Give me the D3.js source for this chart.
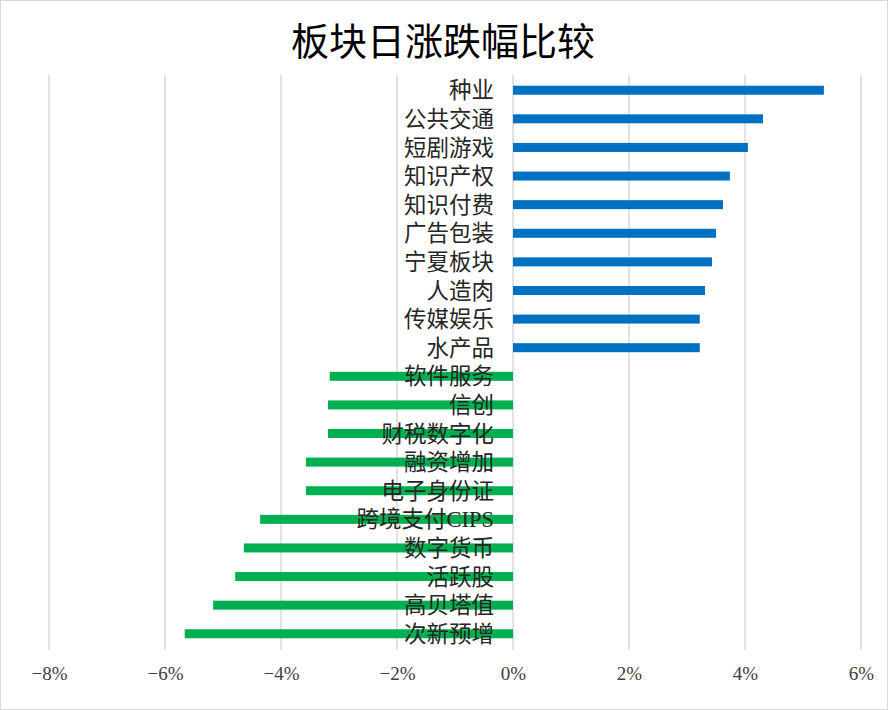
<!DOCTYPE html>
<html><head><meta charset="utf-8">
<script src="https://cdn.jsdelivr.net/npm/d3@7"></script>
<style>
html,body{margin:0;padding:0;background:#fff;}
svg{display:block;font-family:"Liberation Serif","Noto Sans CJK SC",serif;}
</style></head>
<body>
<svg id="chart" width="888" height="710"></svg>
<script>
const title = "板块日涨跌幅比较";
const categories = ["种业","公共交通","短剧游戏","知识产权","知识付费","广告包装","宁夏板块","人造肉","传媒娱乐","水产品",
  "软件服务","信创","财税数字化","融资增加","电子身份证","跨境支付CIPS","数字货币","活跃股","高贝塔值","次新预增"];
const values = [5.36,4.31,4.05,3.74,3.62,3.50,3.43,3.31,3.22,3.22,
  -3.16,-3.19,-3.19,-3.57,-3.57,-4.36,-4.64,-4.79,-5.17,-5.66];
const tickValues = [-8,-6,-4,-2,0,2,4,6];
const posColor = "#0070C0", negColor = "#00B050";

const svg = d3.select("#chart");
const W = 888, H = 710;
svg.append("rect").attr("x",0.5).attr("y",0.5).attr("width",W-1).attr("height",H-1)
  .attr("fill","#fff").attr("stroke","#d9d9d9").attr("stroke-width",1);

const x = d3.scaleLinear().domain([-8,6]).range([49,861]);
const y = d3.scaleBand().domain(categories).range([76,648]).paddingInner(0.685).paddingOuter(0.34);

svg.append("text").attr("x",443).attr("y",55).attr("text-anchor","middle")
  .attr("font-size",38).attr("fill","#000").text(title);

// gridlines
svg.append("g").selectAll("line").data(tickValues).join("line")
  .attr("x1",d=>x(d)).attr("x2",d=>x(d)).attr("y1",75).attr("y2",650)
  .attr("stroke","#d9d9d9").attr("stroke-width",1.5);

// bars
svg.append("g").selectAll("rect").data(categories).join("rect")
  .attr("x",(d,i)=>x(Math.min(0,values[i])))
  .attr("width",(d,i)=>Math.abs(x(values[i])-x(0)))
  .attr("y",d=>y(d)).attr("height",y.bandwidth())
  .attr("fill",(d,i)=>values[i]>=0?posColor:negColor);

// category labels
svg.append("g").selectAll("text").data(categories).join("text")
  .attr("x",x(0)-19).attr("y",d=>y(d)+y.bandwidth()/2)
  .attr("dy","0.36em").attr("text-anchor","end")
  .attr("font-size",22.5).attr("fill","#262626").text(d=>d);

// x axis
const axis = d3.axisBottom(x).tickValues(tickValues).tickSize(0).tickPadding(0)
  .tickFormat(d=>(d<0?"\u2212"+(-d):d)+"%");
const ax = svg.append("g").attr("transform","translate(0,666)").call(axis);
ax.select(".domain").remove();
ax.selectAll("text").attr("font-size",19).attr("fill","#404040")
  .attr("font-family","Liberation Serif, serif").attr("dy","0.71em");
</script>
</body></html>
